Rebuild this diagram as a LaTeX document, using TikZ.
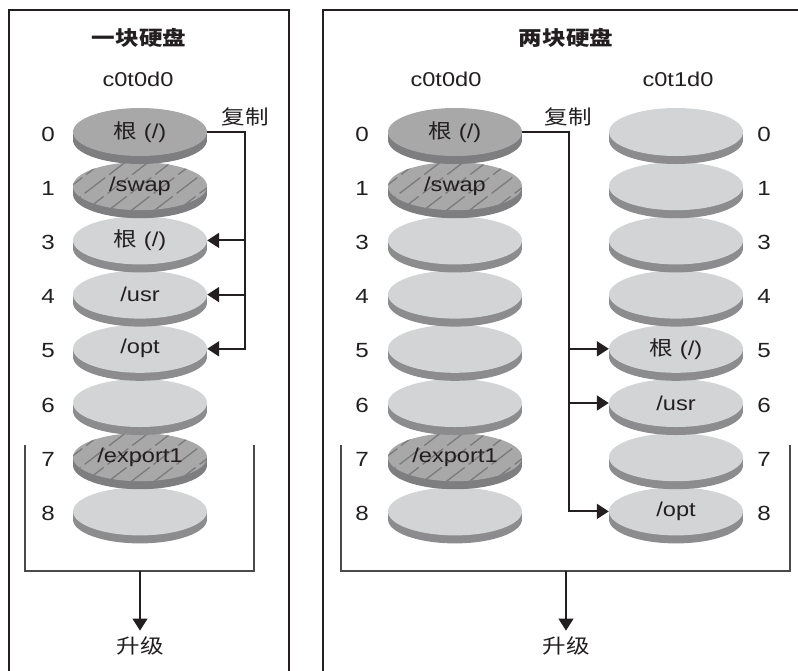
\documentclass[tikz,border=0pt]{standalone}
\usepackage{fontspec}
\setmainfont{Liberation Sans}[FakeStretch=1.18]
\newfontfamily\cjk{Noto Sans CJK SC}[FakeStretch=1.18]
\usetikzlibrary{shapes.geometric,arrows.meta,calc}
\definecolor{ink}{HTML}{231F20}
\definecolor{lighttop}{HTML}{D3D4D6}
\definecolor{lightside}{HTML}{8C8C8E}
\definecolor{darktop}{HTML}{A8A8A9}
\definecolor{darkside}{HTML}{7E7E80}
\definecolor{hatchcol}{HTML}{7A7A7C}
\definecolor{bracketcol}{HTML}{4A4A4C}
\tikzset{
  diskface/.style={shape=ellipse,minimum width=134pt,minimum height=48pt,inner sep=0pt,
    font=\fontsize{20}{23}\selectfont,text=ink},
  num/.style={inner sep=0pt,font=\fontsize{20.5}{23}\selectfont,text=ink},
  lbl/.style={inner sep=0pt,font=\fontsize{20}{23}\selectfont,text=ink},
  cjklbl/.style={inner sep=0pt,font=\cjk\fontsize{20}{23}\selectfont,text=ink},
  uplbl/.style={inner sep=6pt,font=\cjk\fontsize{20}{23}\selectfont,text=ink},
  titlelbl/.style={inner sep=0pt,font=\cjk\bfseries\fontsize{20}{23}\selectfont,text=ink},
  frame/.style={draw=ink,line width=2.2pt},
  bracket/.style={draw=bracketcol,line width=1.3pt},
  conn/.style={draw=ink,line width=2pt},
  connarrow/.style={conn,-{Triangle[length=12pt,width=15pt]}},
  brarrow/.style={draw=ink,line width=1.3pt,-{Triangle[length=12pt,width=15pt]}},
  hatchline/.style={draw=hatchcol,line width=1.3pt,dash pattern=on 26pt off 5pt}
}
\newcommand\dsk[6]{%
  \fill[#5] (#2,#3+8) ellipse [x radius=67, y radius=24];
  \fill[#5] (#2-67,#3) rectangle (#2+67,#3+8);
  \fill[#4] (#2,#3) ellipse [x radius=67, y radius=24];
  \node[diskface] (#1) at (#2,#3) {#6};
}
\newcommand\hdsk[3]{%
  \fill[darkside] (#2,#3+8) ellipse [x radius=67, y radius=24];
  \fill[darkside] (#2-67,#3) rectangle (#2+67,#3+8);
  \fill[darktop] (#2,#3) ellipse [x radius=67, y radius=24];
  \begin{scope}
    \clip (#2,#3) ellipse [x radius=67, y radius=24];
    \foreach \i in {-5,...,5} \draw[hatchline] (#2+\i*23-34,#3+26) -- (#2+\i*23+34,#3-26);
  \end{scope}
}
\begin{document}
\begin{tikzpicture}[x=1pt,y=-1pt]
\path[use as bounding box] (0,0) rectangle (798,670);
\clip (0,0) rectangle (798,670);
% frames
\draw[frame] (9,700) -- (9,10) -- (289,10) -- (289,700);
\draw[frame] (323,700) -- (323,10) -- (840,10) -- (840,700);
% titles
\node[titlelbl] (t1) at (139,38) {一块硬盘};
\node[titlelbl] (t2) at (566,38) {两块硬盘};
\node[lbl] (dl) at (138,79) {c0t0d0};
\node[lbl] (dm) at (446,79) {c0t0d0};
\node[lbl] (dr) at (678,79) {c0t1d0};
\node[cjklbl] (cp1) at (245,117) {复制};
\node[cjklbl] (cp2) at (568,117) {复制};
% numbers
\foreach \p [count=\k from 0] in {0,1,3,4,5,6,7,8} {
  \node[num] (nA\p) at (48,134+54.2*\k) {\p};
  \node[num] (nB\p) at (362,134+54.2*\k) {\p};
  \node[num] (nC\p) at (764,134+54.2*\k) {\p};
}
% left disks (bottom to top)
\dsk{L8}{140}{511.4}{lighttop}{lightside}{}
\hdsk{L7}{140}{457.2}\node[diskface] (L7) at (140,457.2) {/export1};
\dsk{L6}{140}{403}{lighttop}{lightside}{}
\dsk{L5}{140}{348.8}{lighttop}{lightside}{/opt}
\dsk{L4}{140}{294.6}{lighttop}{lightside}{/usr}
\dsk{L3}{140}{240.4}{lighttop}{lightside}{{\cjk 根} (/)}
\hdsk{L1}{140}{186.2}\node[diskface] (L1) at (140,186.2) {/swap};
\dsk{L0}{140}{132}{darktop}{darkside}{{\cjk 根} (/)}
% middle disks
\dsk{M8}{455}{511.4}{lighttop}{lightside}{}
\hdsk{M7}{455}{457.2}\node[diskface] (M7) at (455,457.2) {/export1};
\dsk{M6}{455}{403}{lighttop}{lightside}{}
\dsk{M5}{455}{348.8}{lighttop}{lightside}{}
\dsk{M4}{455}{294.6}{lighttop}{lightside}{}
\dsk{M3}{455}{240.4}{lighttop}{lightside}{}
\hdsk{M1}{455}{186.2}\node[diskface] (M1) at (455,186.2) {/swap};
\dsk{M0}{455}{132}{darktop}{darkside}{{\cjk 根} (/)}
% right disks
\dsk{R8}{676}{511.4}{lighttop}{lightside}{/opt}
\dsk{R7}{676}{457.2}{lighttop}{lightside}{}
\dsk{R6}{676}{403}{lighttop}{lightside}{/usr}
\dsk{R5}{676}{348.8}{lighttop}{lightside}{{\cjk 根} (/)}
\dsk{R4}{676}{294.6}{lighttop}{lightside}{}
\dsk{R3}{676}{240.4}{lighttop}{lightside}{}
\dsk{R1}{676}{186.2}{lighttop}{lightside}{}
\dsk{R0}{676}{132}{lighttop}{lightside}{}
% copy connectors left
\coordinate (cl) at (245,0);
\draw[connarrow] (L0.east) -- (L0.east -| cl) -- (L5.east -| cl) -- (L5.east);
\draw[connarrow] (L3.east -| cl) -- (L3.east);
\draw[connarrow] (L4.east -| cl) -- (L4.east);
% copy connectors right
\coordinate (cr) at (569,0);
\draw[connarrow] (M0.east) -- (M0.east -| cr) -- (R8.west -| cr) -- (R8.west);
\draw[connarrow] (R5.west -| cr) -- (R5.west);
\draw[connarrow] (R6.west -| cr) -- (R6.west);
% brackets
\draw[bracket] (25,445) -- (25,571) -- (254,571) -- (254,445);
\draw[bracket] (341,445) -- (341,571) -- (790,571) -- (790,445);
\node[uplbl] (up1) at (140,646) {升级};
\node[uplbl] (up2) at (566,646) {升级};
\coordinate (b1) at (140,571);
\coordinate (b2) at (566,571);
\draw[brarrow] (b1) -- (up1.north);
\draw[brarrow] (b2) -- (up2.north);
\end{tikzpicture}
\end{document}
